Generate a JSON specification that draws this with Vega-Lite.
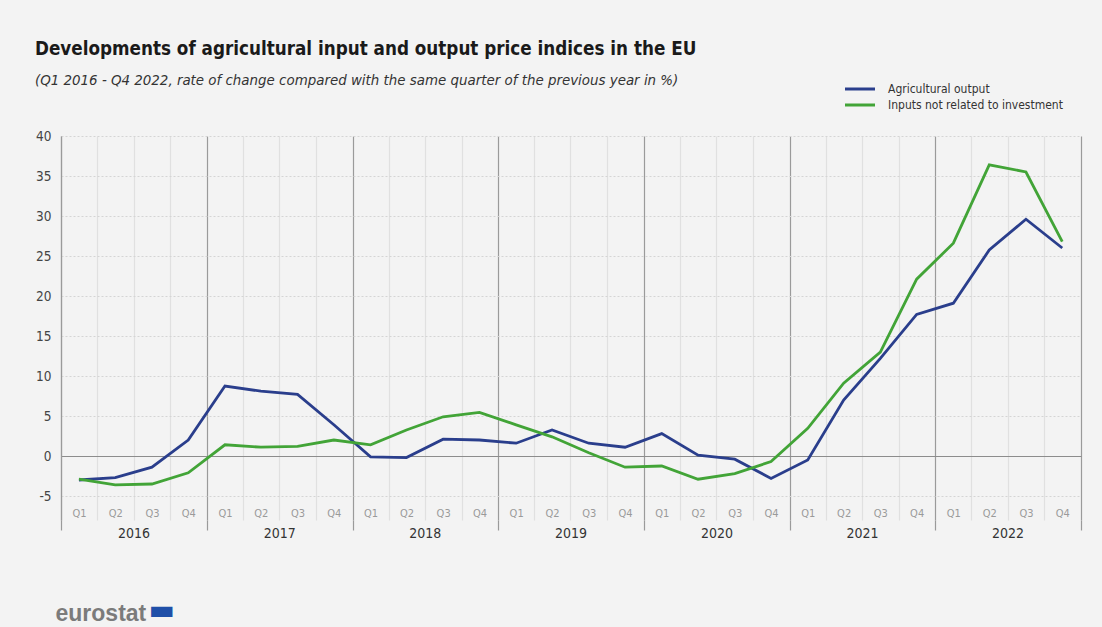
{
  "$schema": "https://vega.github.io/schema/vega-lite/v6.json",
  "width": 1020,
  "height": 384,
  "autosize": {"type": "none"},
  "padding": {"left": 61, "top": 136, "right": 21, "bottom": 107},
  "background": "#f3f3f3",
  "config": {"view": {"stroke": null}},
  "title": {
    "text": "Developments of agricultural input and output price indices in the EU",
    "subtitle": "(Q1 2016 - Q4 2022, rate of change compared with the same quarter of the previous year in %)",
    "anchor": "start",
    "frame": "group",
    "dx": -26,
    "dy": 18,
    "offset": 10,
    "font": "DejaVu Sans Condensed, sans-serif",
    "fontSize": 18.7,
    "fontWeight": "bold",
    "color": "#1a1a1a",
    "subtitleFont": "DejaVu Sans Condensed, sans-serif",
    "subtitleFontSize": 14.9,
    "subtitleFontStyle": "italic",
    "subtitleColor": "#333333",
    "subtitlePadding": 14
  },
  "data": {
    "values": [
      {"date": "2016-02-15", "series": "Agricultural output", "value": -3.0},
      {"date": "2016-05-16", "series": "Agricultural output", "value": -2.7},
      {"date": "2016-08-16", "series": "Agricultural output", "value": -1.4},
      {"date": "2016-11-15", "series": "Agricultural output", "value": 2.0},
      {"date": "2017-02-15", "series": "Agricultural output", "value": 8.75},
      {"date": "2017-05-16", "series": "Agricultural output", "value": 8.1},
      {"date": "2017-08-16", "series": "Agricultural output", "value": 7.7},
      {"date": "2017-11-15", "series": "Agricultural output", "value": 3.9},
      {"date": "2018-02-15", "series": "Agricultural output", "value": -0.1},
      {"date": "2018-05-16", "series": "Agricultural output", "value": -0.2},
      {"date": "2018-08-16", "series": "Agricultural output", "value": 2.1},
      {"date": "2018-11-15", "series": "Agricultural output", "value": 2.0},
      {"date": "2019-02-15", "series": "Agricultural output", "value": 1.6},
      {"date": "2019-05-16", "series": "Agricultural output", "value": 3.25},
      {"date": "2019-08-16", "series": "Agricultural output", "value": 1.6},
      {"date": "2019-11-15", "series": "Agricultural output", "value": 1.1},
      {"date": "2020-02-15", "series": "Agricultural output", "value": 2.8},
      {"date": "2020-05-16", "series": "Agricultural output", "value": 0.1},
      {"date": "2020-08-16", "series": "Agricultural output", "value": -0.4},
      {"date": "2020-11-15", "series": "Agricultural output", "value": -2.8},
      {"date": "2021-02-15", "series": "Agricultural output", "value": -0.5},
      {"date": "2021-05-16", "series": "Agricultural output", "value": 7.0},
      {"date": "2021-08-16", "series": "Agricultural output", "value": 12.2},
      {"date": "2021-11-15", "series": "Agricultural output", "value": 17.7},
      {"date": "2022-02-15", "series": "Agricultural output", "value": 19.1},
      {"date": "2022-05-16", "series": "Agricultural output", "value": 25.75},
      {"date": "2022-08-16", "series": "Agricultural output", "value": 29.6},
      {"date": "2022-11-15", "series": "Agricultural output", "value": 26.0},
      {"date": "2016-02-15", "series": "Inputs not related to investment", "value": -2.9},
      {"date": "2016-05-16", "series": "Inputs not related to investment", "value": -3.6},
      {"date": "2016-08-16", "series": "Inputs not related to investment", "value": -3.5},
      {"date": "2016-11-15", "series": "Inputs not related to investment", "value": -2.1},
      {"date": "2017-02-15", "series": "Inputs not related to investment", "value": 1.4},
      {"date": "2017-05-16", "series": "Inputs not related to investment", "value": 1.1},
      {"date": "2017-08-16", "series": "Inputs not related to investment", "value": 1.2},
      {"date": "2017-11-15", "series": "Inputs not related to investment", "value": 2.0},
      {"date": "2018-02-15", "series": "Inputs not related to investment", "value": 1.4},
      {"date": "2018-05-16", "series": "Inputs not related to investment", "value": 3.25},
      {"date": "2018-08-16", "series": "Inputs not related to investment", "value": 4.9},
      {"date": "2018-11-15", "series": "Inputs not related to investment", "value": 5.45},
      {"date": "2019-02-15", "series": "Inputs not related to investment", "value": 3.9},
      {"date": "2019-05-16", "series": "Inputs not related to investment", "value": 2.4},
      {"date": "2019-08-16", "series": "Inputs not related to investment", "value": 0.4},
      {"date": "2019-11-15", "series": "Inputs not related to investment", "value": -1.4},
      {"date": "2020-02-15", "series": "Inputs not related to investment", "value": -1.25},
      {"date": "2020-05-16", "series": "Inputs not related to investment", "value": -2.9},
      {"date": "2020-08-16", "series": "Inputs not related to investment", "value": -2.2},
      {"date": "2020-11-15", "series": "Inputs not related to investment", "value": -0.7},
      {"date": "2021-02-15", "series": "Inputs not related to investment", "value": 3.45},
      {"date": "2021-05-16", "series": "Inputs not related to investment", "value": 9.1},
      {"date": "2021-08-16", "series": "Inputs not related to investment", "value": 13.0},
      {"date": "2021-11-15", "series": "Inputs not related to investment", "value": 22.1},
      {"date": "2022-02-15", "series": "Inputs not related to investment", "value": 26.6},
      {"date": "2022-05-16", "series": "Inputs not related to investment", "value": 36.4},
      {"date": "2022-08-16", "series": "Inputs not related to investment", "value": 35.5},
      {"date": "2022-11-15", "series": "Inputs not related to investment", "value": 26.8}
    ]
  },
  "encoding": {
    "y": {
      "field": "value",
      "type": "quantitative",
      "title": null,
      "scale": {"domain": [-8, 40], "nice": false, "zero": false},
      "axis": {
        "values": [-5, 0, 5, 10, 15, 20, 25, 30, 35, 40],
        "labelExpr": "'' + datum.value",
        "domain": true,
        "domainColor": "#9a9a9a",
        "domainWidth": 1.2,
        "ticks": false,
        "labelPadding": 10,
        "labelFont": "DejaVu Sans Condensed, sans-serif",
        "labelFontSize": 13.5,
        "labelColor": "#444444",
        "grid": true,
        "gridColor": {"condition": {"test": "datum.value == 0", "value": "#8c8c8c"}, "value": "#d4d4d4"},
        "gridDash": {"condition": {"test": "datum.value == 0", "value": []}, "value": [2, 2]},
        "gridWidth": 1
      }
    }
  },
  "layer": [
    {
      "mark": {"type": "line", "strokeWidth": 2.8},
      "encoding": {
        "x": {
          "field": "date",
          "type": "temporal",
          "title": "▬",
          "scale": {"type": "utc", "domain": [{"year": 2016, "month": 1, "date": 1, "utc": true}, {"year": 2023, "month": 1, "date": 1, "utc": true}]},
          "axis": {
            "orient": "bottom",
            "values": [
              {"year": 2016, "month": 2, "date": 15, "utc": true}, {"year": 2016, "month": 5, "date": 16, "utc": true}, {"year": 2016, "month": 8, "date": 16, "utc": true}, {"year": 2016, "month": 11, "date": 15, "utc": true},
              {"year": 2017, "month": 2, "date": 15, "utc": true}, {"year": 2017, "month": 5, "date": 16, "utc": true}, {"year": 2017, "month": 8, "date": 16, "utc": true}, {"year": 2017, "month": 11, "date": 15, "utc": true},
              {"year": 2018, "month": 2, "date": 15, "utc": true}, {"year": 2018, "month": 5, "date": 16, "utc": true}, {"year": 2018, "month": 8, "date": 16, "utc": true}, {"year": 2018, "month": 11, "date": 15, "utc": true},
              {"year": 2019, "month": 2, "date": 15, "utc": true}, {"year": 2019, "month": 5, "date": 16, "utc": true}, {"year": 2019, "month": 8, "date": 16, "utc": true}, {"year": 2019, "month": 11, "date": 15, "utc": true},
              {"year": 2020, "month": 2, "date": 15, "utc": true}, {"year": 2020, "month": 5, "date": 16, "utc": true}, {"year": 2020, "month": 8, "date": 16, "utc": true}, {"year": 2020, "month": 11, "date": 15, "utc": true},
              {"year": 2021, "month": 2, "date": 15, "utc": true}, {"year": 2021, "month": 5, "date": 16, "utc": true}, {"year": 2021, "month": 8, "date": 16, "utc": true}, {"year": 2021, "month": 11, "date": 15, "utc": true},
              {"year": 2022, "month": 2, "date": 15, "utc": true}, {"year": 2022, "month": 5, "date": 16, "utc": true}, {"year": 2022, "month": 8, "date": 16, "utc": true}, {"year": 2022, "month": 11, "date": 15, "utc": true}
            ],
            "labelExpr": "'Q' + (floor(utcmonth(datum.value) / 3) + 1)",
            "ticks": false,
            "domain": false,
            "grid": false,
            "labelAngle": 0,
            "labelOverlap": false,
            "labelPadding": -13,
            "labelFont": "DejaVu Sans Condensed, sans-serif",
            "labelFontSize": 11,
            "labelColor": "#9a9a9a",
            "titleX": 87,
            "titleY": 90,
            "titleAlign": "left",
            "titleAnchor": "start",
            "titleBaseline": "middle",
            "titleFont": "DejaVu Sans",
            "titleFontSize": 28,
            "titleFontWeight": "normal",
            "titleColor": "#1f4fa8"
          }
        },
        "color": {
          "field": "series",
          "type": "nominal",
          "scale": {"domain": ["Agricultural output", "Inputs not related to investment"], "range": ["#2a3e8c", "#42a437"]},
          "legend": {
            "title": null,
            "orient": "none",
            "legendX": 790,
            "legendY": -56,
            "symbolType": "M-2,0H2",
            "symbolStrokeWidth": 3,
            "symbolSize": 225,
            "labelFont": "DejaVu Sans Condensed, sans-serif",
            "labelFontSize": 12,
            "labelColor": "#333333",
            "labelLimit": 400,
            "rowPadding": 1,
            "labelOffset": 19
          }
        }
      }
    },
    {
      "mark": {"type": "point", "opacity": 0},
      "encoding": {
        "x": {
          "field": "date",
          "type": "temporal",
          "title": null,
          "axis": {
            "orient": "bottom",
            "values": [
              {"year": 2016, "month": 1, "date": 1, "utc": true}, {"year": 2016, "month": 4, "date": 1, "utc": true}, {"year": 2016, "month": 7, "date": 1, "utc": true}, {"year": 2016, "month": 10, "date": 1, "utc": true},
              {"year": 2017, "month": 1, "date": 1, "utc": true}, {"year": 2017, "month": 4, "date": 1, "utc": true}, {"year": 2017, "month": 7, "date": 1, "utc": true}, {"year": 2017, "month": 10, "date": 1, "utc": true},
              {"year": 2018, "month": 1, "date": 1, "utc": true}, {"year": 2018, "month": 4, "date": 1, "utc": true}, {"year": 2018, "month": 7, "date": 1, "utc": true}, {"year": 2018, "month": 10, "date": 1, "utc": true},
              {"year": 2019, "month": 1, "date": 1, "utc": true}, {"year": 2019, "month": 4, "date": 1, "utc": true}, {"year": 2019, "month": 7, "date": 1, "utc": true}, {"year": 2019, "month": 10, "date": 1, "utc": true},
              {"year": 2020, "month": 1, "date": 1, "utc": true}, {"year": 2020, "month": 4, "date": 1, "utc": true}, {"year": 2020, "month": 7, "date": 1, "utc": true}, {"year": 2020, "month": 10, "date": 1, "utc": true},
              {"year": 2021, "month": 1, "date": 1, "utc": true}, {"year": 2021, "month": 4, "date": 1, "utc": true}, {"year": 2021, "month": 7, "date": 1, "utc": true}, {"year": 2021, "month": 10, "date": 1, "utc": true},
              {"year": 2022, "month": 1, "date": 1, "utc": true}, {"year": 2022, "month": 4, "date": 1, "utc": true}, {"year": 2022, "month": 7, "date": 1, "utc": true}, {"year": 2022, "month": 10, "date": 1, "utc": true},
              {"year": 2023, "month": 1, "date": 1, "utc": true}
            ],
            "labels": false,
            "domain": false,
            "grid": true,
            "gridColor": {"condition": {"test": "utcmonth(datum.value) == 0", "value": "#9a9a9a"}, "value": "#e0e0e0"},
            "gridWidth": 1.2,
            "ticks": true,
            "tickSize": 10,
            "tickWidth": 1.2,
            "tickColor": "#9a9a9a",
            "tickOpacity": {"condition": {"test": "utcmonth(datum.value) == 0", "value": 1}, "value": 0}
          }
        }
      }
    },
    {
      "mark": {"type": "point", "opacity": 0},
      "encoding": {
        "x": {
          "field": "date",
          "type": "temporal",
          "title": "eurostat",
          "axis": {
            "orient": "bottom",
            "values": [
              {"year": 2016, "month": 7, "date": 1, "utc": true}, {"year": 2017, "month": 7, "date": 1, "utc": true}, {"year": 2018, "month": 7, "date": 1, "utc": true},
              {"year": 2019, "month": 7, "date": 1, "utc": true}, {"year": 2020, "month": 7, "date": 1, "utc": true}, {"year": 2021, "month": 7, "date": 1, "utc": true},
              {"year": 2022, "month": 7, "date": 1, "utc": true}
            ],
            "format": "%Y",
            "labels": true,
            "ticks": false,
            "domain": false,
            "grid": false,
            "labelPadding": 6,
            "labelFont": "DejaVu Sans Condensed, sans-serif",
            "labelFontSize": 14,
            "labelColor": "#333333",
            "titleX": -6,
            "titleY": 93,
            "titleAlign": "left",
            "titleAnchor": "start",
            "titleBaseline": "middle",
            "titleFont": "Liberation Sans, Arial, sans-serif",
            "titleFontSize": 23,
            "titleFontWeight": "bold",
            "titleColor": "#7b7b7b"
          }
        }
      }
    }
  ],
  "resolve": {"axis": {"x": "independent"}}
}
